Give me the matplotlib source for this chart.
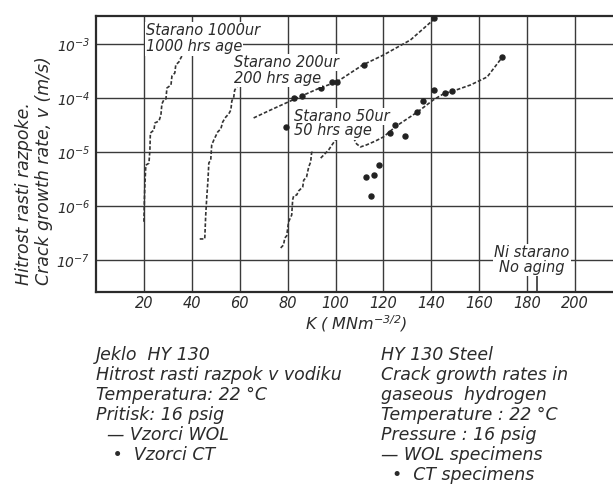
import matplotlib
matplotlib.use("Agg")
import matplotlib.pyplot as plt

plt.rcParams["font.family"] = ["DejaVu Sans"]
plt.rcParams["font.style"] = "italic"
plt.rcParams["mathtext.fontset"] = "dejavusans"
plt.rcParams["mathtext.default"] = "it"

INK = "#2b2b2b"

# WOL specimens, aged 1000 h (stepped record)
k_1000 = [20.0, 20.2, 20.4, 20.8, 22.1, 22.5, 22.7, 24.2, 24.6, 26.3, 27.1, 27.5,
          28.3, 29.2, 29.6, 31.3, 31.7, 32.9, 33.3, 34.6, 35.4, 36.3, 37.5]
v_1000 = [5.1e-7, 1.3e-6, 2.45e-6, 5.7e-6, 6.2e-6, 1.09e-5, 2.25e-5, 2.55e-5, 3.45e-5,
          3.75e-5, 4.85e-5, 7.75e-5, 9.2e-5, 9.6e-5, 1.53e-4, 1.74e-4, 2.55e-4, 2.9e-4,
          4.1e-4, 4.65e-4, 5.5e-4, 6.5e-4, 6.8e-4]

# WOL specimens, aged 200 h
k_200 = [43.3, 45.4, 45.8, 46.3, 46.7, 47.1, 47.9, 48.3, 49.2, 50.8, 52.1, 52.9,
         54.2, 55.4, 56.3, 56.7, 57.5, 57.9, 58.8, 59.2]
v_200 = [2.45e-7, 2.45e-7, 6.8e-7, 1.6e-6, 2.8e-6, 6.25e-6, 7.1e-6, 1.35e-5, 1.67e-5,
         2.35e-5, 2.67e-5, 3.6e-5, 4.45e-5, 5.05e-5, 6.0e-5, 8.8e-5, 1.04e-4, 1.4e-4,
         1.6e-4, 1.9e-4]
k_200_hi = [65.8, 72.9, 85.4, 92.5, 100.8, 111.3, 120.0, 131.3, 141.7]
v_200_hi = [4.27e-5, 6.0e-5, 1.07e-4, 1.47e-4, 2.02e-4, 4.08e-4, 6.25e-4, 1.19e-3, 3.03e-3]

# WOL specimens, aged 50 h
k_50 = [77.1, 78.3, 78.8, 79.6, 80.4, 81.7, 82.1, 82.5, 83.8, 84.6, 86.3, 86.7,
        87.9, 88.8, 89.6, 90.0, 90.8]
v_50 = [1.67e-7, 1.9e-7, 2.55e-7, 2.8e-7, 5.1e-7, 6.8e-7, 1.3e-6, 1.53e-6, 1.6e-6,
        1.9e-6, 2.25e-6, 3.0e-6, 3.45e-6, 5.3e-6, 6.5e-6, 9.6e-6, 1.09e-5]
k_50_mid = [93.8, 97.1, 100.8]
v_50_mid = [7.7e-6, 1.09e-5, 1.9e-5]
k_50_hi = [107.5, 108.8, 110.4, 112.9, 116.7, 120.0, 125.4, 134.2, 140.8, 145.0,
           149.2, 156.3, 163.3, 169.6]
v_50_hi = [1.82e-5, 1.41e-5, 1.24e-5, 1.35e-5, 1.6e-5, 1.9e-5, 3.03e-5, 5.5e-5,
           9.2e-5, 1.19e-4, 1.35e-4, 1.74e-4, 2.45e-4, 5.7e-4]

# unaged: near-vertical record at the bottom
k_none = [184.0, 184.0]
v_none = [5.0e-8, 2.55e-8]

# CT specimens
k_ct = [79.2, 82.6, 86.1, 93.8, 98.6, 100.7, 111.8, 141.0, 112.9, 116.0, 114.6,
        118.0, 122.9, 125.0, 129.2, 134.0, 136.5, 141.0, 145.5, 148.6, 169.4]
v_ct = [2.95e-5, 9.8e-5, 1.07e-4, 1.51e-4, 2.0e-4, 2.0e-4, 4.07e-4, 3.0e-3, 3.47e-6,
        3.7e-6, 1.51e-6, 5.75e-6, 2.24e-5, 3.16e-5, 2.0e-5, 5.6e-5, 8.9e-5, 1.41e-4,
        1.26e-4, 1.32e-4, 5.75e-4]

x_ticks = [20, 40, 60, 80, 100, 120, 140, 160, 180, 200]
y_ticks = [1e-3, 1e-4, 1e-5, 1e-6, 1e-7]
y_labels = ["$10^{-3}$", "$10^{-4}$", "$10^{-5}$", "$10^{-6}$", "$10^{-7}$"]

fig = plt.figure(figsize=(6.13, 4.86), dpi=100)
ax = fig.add_axes([96 / 613, 194 / 486, 527 / 613, 276 / 486])
ax.set_yscale("log")
ax.set_xlim(0, 220)
ax.set_ylim(2.55e-8, 3.3e-3)

ax.set_xticks(x_ticks)
ax.set_xticklabels([str(t) for t in x_ticks], fontsize=10.5, color=INK)
ax.set_yticks(y_ticks)
ax.set_yticklabels(y_labels, fontsize=10, color=INK)
ax.minorticks_off()
ax.tick_params(axis="x", length=0, pad=3)
ax.tick_params(axis="y", length=0, pad=4)
ax.grid(True, color="#3a3a3a", lw=1.0)
ax.set_axisbelow(True)
for side in ("left", "top", "bottom"):
    ax.spines[side].set_linewidth(1.6)
    ax.spines[side].set_color(INK)
ax.spines["right"].set_visible(False)

dash = dict(color="#333333", lw=1.2, ls=(0, (2.2, 1.2)), zorder=3)
for kk, vv in [(k_1000, v_1000), (k_200, v_200), (k_200_hi, v_200_hi),
               (k_50, v_50), (k_50_mid, v_50_mid), (k_50_hi, v_50_hi)]:
    ax.plot(kk, vv, **dash)
ax.plot(k_none, v_none, color="#333333", lw=1.2, zorder=3)
ax.plot(k_ct, v_ct, "o", ms=3.6, color="#222222", zorder=4)

box = dict(fc="white", ec="none", pad=0.8)
notes = [
    (20.8, 1.8e-3, "Starano 1000ur"), (20.8, 8.8e-4, "1000 hrs age"),
    (57.5, 4.6e-4, "Starano 200ur"), (57.5, 2.34e-4, "200 hrs age"),
    (82.5, 4.6e-5, "Starano 50ur"), (82.5, 2.45e-5, "50 hrs age"),
]
for x, y, s in notes:
    ax.text(x, y, s, fontsize=10.5, color=INK, ha="left", va="center", bbox=box, zorder=5)
ax.text(182, 1.35e-7, "Ni starano", fontsize=10.5, color=INK, ha="center", va="center",
        bbox=box, zorder=5)
ax.text(182, 7.4e-8, "No aging", fontsize=10.5, color=INK, ha="center", va="center",
        bbox=box, zorder=5)

# axis titles
fig.text(356 / 613, 1 - 324 / 486, "K ( MNm$^{-3/2}$)", fontsize=11.5, color=INK,
         ha="center", va="center")
fig.text(24 / 613, 1 - 285 / 486, "Hitrost rasti razpoke.", fontsize=12.5, color=INK,
         rotation=90, ha="center", va="bottom")
fig.text(44 / 613, 1 - 285 / 486, "Crack growth rate, v (m/s)", fontsize=12.5, color=INK,
         rotation=90, ha="center", va="bottom")

left_lines = ["Jeklo  HY 130", "Hitrost rasti razpok v vodiku", "Temperatura: 22 °C",
              "Pritisk: 16 psig", "  — Vzorci WOL", "   •  Vzorci CT"]
right_lines = ["HY 130 Steel", "Crack growth rates in", "gaseous  hydrogen",
               "Temperature : 22 °C", "Pressure : 16 psig", "— WOL specimens",
               "  •  CT specimens"]
for i, s in enumerate(left_lines):
    fig.text(96 / 613, 1 - (355 + 20 * i) / 486, s, fontsize=12.5, color=INK,
             ha="left", va="center")
for i, s in enumerate(right_lines):
    fig.text(381 / 613, 1 - (355 + 20 * i) / 486, s, fontsize=12.5, color=INK,
             ha="left", va="center")

fig.savefig("out.png", dpi=100, facecolor="white")
